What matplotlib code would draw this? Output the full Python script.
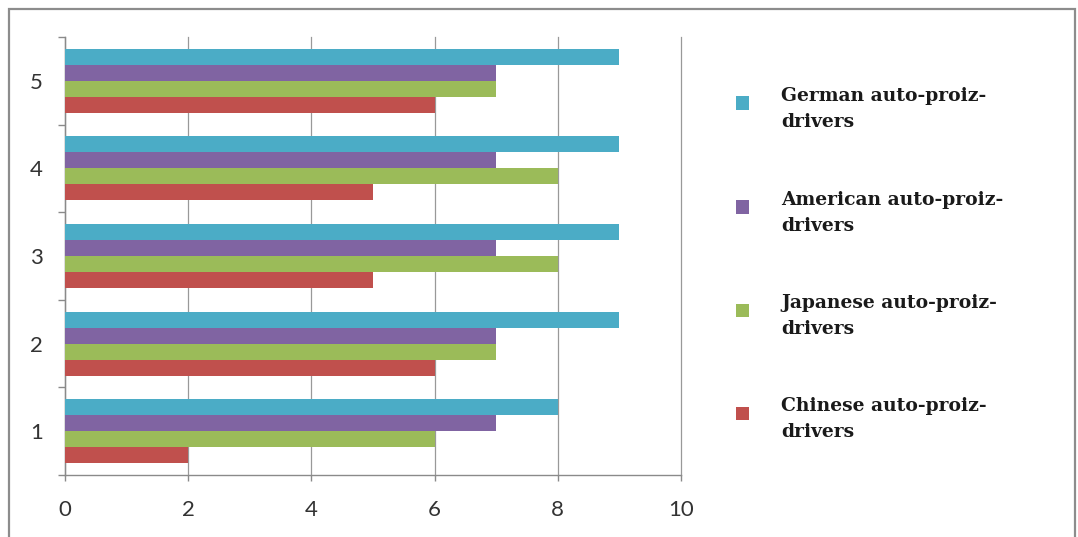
import matplotlib
matplotlib.use("Agg")
import matplotlib.pyplot as plt
from matplotlib.patches import Rectangle
import numpy as np

categories = ["1", "2", "3", "4", "5"]
series_names = ["Chinese auto-proiz-\ndrivers", "Japanese auto-proiz-\ndrivers",
                "American auto-proiz-\ndrivers", "German auto-proiz-\ndrivers"]
chinese = [2, 6, 5, 5, 6]
japanese = [6, 7, 8, 8, 7]
american = [7, 7, 7, 7, 7]
german = [8, 9, 9, 9, 9]
series_values = [chinese, japanese, american, german]
colors = ["#C0504D", "#9BBB59", "#8064A2", "#4BACC6"]
x_ticks = [0, 2, 4, 6, 8, 10]

W, H = 1078, 537
fig = plt.figure(figsize=(W / 100, H / 100), dpi=100)
fig.patch.set_facecolor("white")

# outer border
fig.add_artist(Rectangle((9 / W, -0.01), (1075 - 9) / W, 1 - 9 / H + 0.01,
                         transform=fig.transFigure, fill=False,
                         edgecolor="#8c8c8c", linewidth=1.6))

ax = fig.add_axes([65 / W, 1 - 475 / H, (681 - 65) / W, (475 - 37) / H])

y = np.arange(len(categories))
h = 0.183
offsets = [-1.5 * h, -0.5 * h, 0.5 * h, 1.5 * h]
for vals, off, col in zip(series_values, offsets, colors):
    ax.barh(y + off, vals, height=h, color=col, zorder=3)

ax.set_xlim(0, 10)
ax.set_ylim(-0.5, len(categories) - 0.5)
ax.set_xticks(x_ticks)
ax.set_xticklabels([str(t) for t in x_ticks])
ax.set_yticks(y)
ax.set_yticklabels(categories)
ax.set_yticks(np.arange(-0.5, len(categories)), minor=True)
ax.grid(axis="x", color="#999999", linewidth=0.9, zorder=0)
for gl in ax.get_xgridlines():
    gl.set_clip_on(False)
for s in ["top", "right"]:
    ax.spines[s].set_visible(False)
for s in ["left", "bottom"]:
    ax.spines[s].set_color("#8a8a8a")
    ax.spines[s].set_linewidth(1.0)

ax.tick_params(axis="y", which="major", length=0, pad=16, labelsize=16,
               labelcolor="#333333")
ax.tick_params(axis="y", which="minor", length=5, color="#8a8a8a", width=1.0)
ax.tick_params(axis="x", which="major", length=4, color="#8a8a8a", width=1.0,
               pad=14, labelsize=16, labelcolor="#333333")
for lab in ax.get_xticklabels() + ax.get_yticklabels():
    lab.set_family("Lato")

# legend (top entry = last series)
legend_rows_y = [413, 310, 207, 103]  # marker centers, pixels from top
for name, col, py in zip(series_names, colors, legend_rows_y):
    s = 13
    fig.add_artist(Rectangle(((743 - s / 2) / W, 1 - (py + s / 2) / H), s / W, s / H,
                             transform=fig.transFigure, facecolor=col,
                             edgecolor="none"))
    fig.text(781 / W, 1 - (py - 16) / H, name, ha="left", va="top",
             family="DejaVu Serif", fontweight="bold", fontsize=13.5,
             color="#1a1a1a", linespacing=1.55)

fig.savefig("out.png", dpi=100)
